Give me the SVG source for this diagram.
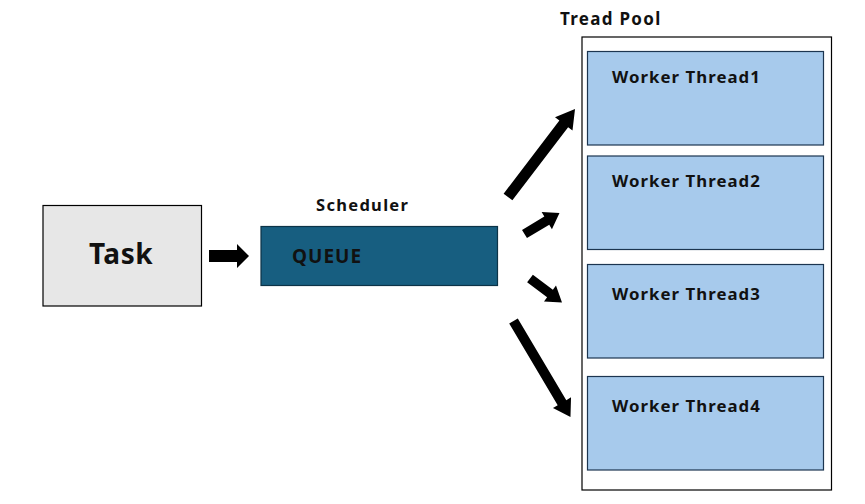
<svg xmlns="http://www.w3.org/2000/svg" width="865" height="504" viewBox="0 0 865 504">
<style>
text{font-family:"Noto Sans","Liberation Sans",sans-serif;font-weight:bold;fill:#111}
.w{fill:#a7caec;stroke:#1c3550;stroke-width:1.2}
.lbl{font-size:16.8px;letter-spacing:1.05px}
.arr{fill:#000}
</style>
<rect width="865" height="504" fill="#fff"/>
<g id="task">
<rect x="43" y="205.5" width="158.5" height="100.5" fill="#e7e7e7" stroke="#000" stroke-width="1.2"/>
<text x="121" y="264" font-size="28" text-anchor="middle" letter-spacing="0.5">Task</text>
</g>
<g id="scheduler">
<text x="316" y="211" font-size="16.5" letter-spacing="1.3">Scheduler</text>
<rect x="261" y="226.5" width="236.5" height="59" fill="#175e80" stroke="#0c3347" stroke-width="1.2"/>
<text x="292" y="263" font-size="19" letter-spacing="1">QUEUE</text>
</g>
<g id="pool">
<text x="560" y="25" font-size="17" letter-spacing="1.3">Tread Pool</text>
<rect x="582" y="37" width="249.5" height="453" fill="#fff" stroke="#000" stroke-width="1.2"/>
</g>
<g id="worker1">
<rect class="w" x="587.5" y="51.5" width="236" height="93.5"/>
<text class="lbl" x="612" y="83">Worker Thread1</text>
</g>
<g id="worker2">
<rect class="w" x="587.5" y="156" width="236" height="93.5"/>
<text class="lbl" x="612" y="187">Worker Thread2</text>
</g>
<g id="worker3">
<rect class="w" x="587.5" y="264.5" width="236" height="93.5"/>
<text class="lbl" x="612" y="300">Worker Thread3</text>
</g>
<g id="worker4">
<rect class="w" x="587.5" y="376.5" width="236" height="93.5"/>
<text class="lbl" x="612" y="412">Worker Thread4</text>
</g>
<g id="connectors">
<polygon class="arr" points="209,250 237,250 237,244 249,256 237,268 237,262 209,262"/>
<g transform="translate(508,197) rotate(-52.7)">
<polygon class="arr" points="0,-5.5 92,-5.5 92,-11 110.6,0 92,11 92,5.5 0,5.5"/>
</g>
<g transform="translate(524.5,234) rotate(-31)">
<polygon class="arr" points="0,-4.8 26,-4.8 26,-10 40.8,0 26,10 26,4.8 0,4.8"/>
</g>
<g transform="translate(530,278.5) rotate(36.9)">
<polygon class="arr" points="0,-4.8 25,-4.8 25,-10 40,0 25,10 25,4.8 0,4.8"/>
</g>
<g transform="translate(513.5,321) rotate(59.3)">
<polygon class="arr" points="0,-5 95,-5 95,-10.5 111.6,0 95,10.5 95,5 0,5"/>
</g>
</g>
</svg>
